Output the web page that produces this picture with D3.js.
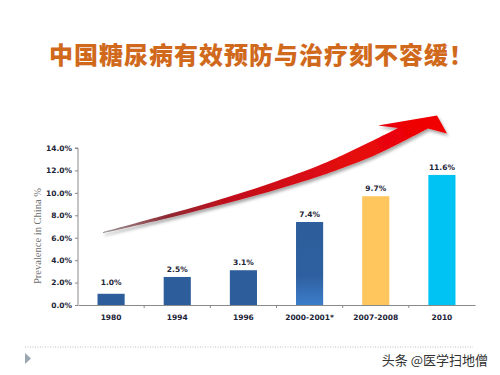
<!DOCTYPE html>
<html><head><meta charset="utf-8">
<script src="https://cdn.jsdelivr.net/npm/d3@7/dist/d3.min.js"></script>
<style>
html,body{margin:0;padding:0;background:#fff;}
svg{display:block;}
</style></head>
<body>
<svg id="c" width="500" height="375"></svg>
<script>
const title = "中国糖尿病有效预防与治疗刻不容缓！";
const categories = ["1980", "1994", "1996", "2000-2001*", "2007-2008", "2010"];
const values = [1.0, 2.5, 3.1, 7.4, 9.7, 11.6];
const yTicks = [0, 2, 4, 6, 8, 10, 12, 14];
const yTitle = "Prevalence in China %";
const watermark = "头条 @医学扫地僧";

const svg = d3.select("#c");
const defs = svg.append("defs");

// gradients
const g1 = defs.append("linearGradient").attr("id","bar4").attr("x1",0).attr("y1",0).attr("x2",0).attr("y2",1);
g1.append("stop").attr("offset","0%").attr("stop-color","#2D5D9B");
g1.append("stop").attr("offset","65%").attr("stop-color","#2E609F");
g1.append("stop").attr("offset","100%").attr("stop-color","#3C7DCB");

const ag = defs.append("linearGradient").attr("id","arrowG").attr("gradientUnits","userSpaceOnUse")
  .attr("x1",103).attr("y1",232).attr("x2",445).attr("y2",120);
ag.append("stop").attr("offset","0%").attr("stop-color","#9a9a9a");
ag.append("stop").attr("offset","18%").attr("stop-color","#8e2a35");
ag.append("stop").attr("offset","35%").attr("stop-color","#c0101c");
ag.append("stop").attr("offset","70%").attr("stop-color","#e40a10");
ag.append("stop").attr("offset","100%").attr("stop-color","#f20000");

const sh = defs.append("filter").attr("id","shadow").attr("x","-10%").attr("y","-10%").attr("width","130%").attr("height","140%");
sh.append("feDropShadow").attr("dx",1.5).attr("dy",2.5).attr("stdDeviation",1.5).attr("flood-color","#000").attr("flood-opacity",0.35);

// title
svg.append("text").attr("x",49).attr("y",64).attr("text-anchor","start")
  .attr("font-family","'Noto Sans CJK SC', sans-serif").attr("font-weight",900)
  .attr("font-size",24).attr("fill","#D0691C").attr("letter-spacing","1")
  .text(title);

// scales
const margin = {left:78, right:475, top:148, bottom:305};
const x = d3.scaleBand().domain(categories).range([margin.left, margin.right]).paddingInner(0.59).paddingOuter(0.295);
const xb = d3.scaleBand().domain(categories).range([margin.left, margin.right]);
const y = d3.scaleLinear().domain([0,14]).range([margin.bottom, margin.top]);
const color = d3.scaleOrdinal().domain(categories).range(["#2D5D9B","#2D5D9B","#2D5D9B","url(#bar4)","#FFC65E","#00C3F3"]);

// arrow
const upper = [[103,232],[160,216.5],[210,202.5],[270,183.5],[320,165],[345,154],[372,141],[398,128]];
const lower = [[428,128.5],[400,143],[372,156.5],[345,167],[320,176],[270,191.5],[210,207.5],[160,220],[103,233.2]];
const head = [[398,128],[378,125.5],[437,115.5],[447,133.5],[428,128.5]];
const lineGen = d3.line().curve(d3.curveCatmullRom);
const up = lineGen(upper);
const low = lineGen(lower).replace(/^M/,"L");
const hd = head.slice(1).map(p=>"L"+p[0]+","+p[1]).join("");
svg.append("path").attr("d", up + hd + low + "Z").attr("fill","url(#arrowG)").attr("filter","url(#shadow)");

// axes
const ax = svg.append("g").attr("font-family","'DejaVu Sans', Verdana, sans-serif");
const yAxis = d3.axisLeft(y).tickValues(yTicks).tickSize(3).tickFormat(d=>d3.format(".1f")(d)+"%");
const yg = ax.append("g").attr("transform",`translate(${margin.left},0)`).call(yAxis);
yg.select(".domain").attr("stroke","#8a8a8a").attr("d",`M-3,${margin.top}H0V${margin.bottom}`);
yg.selectAll(".tick line").attr("stroke","#8a8a8a");
yg.selectAll(".tick text").attr("font-size",7.5).attr("font-weight","bold").attr("fill","#1c2336").attr("x",-6)
  .attr("font-family","'DejaVu Sans', Verdana, sans-serif");

const xAxis = d3.axisBottom(xb).tickSize(0).tickFormat("");
const xg = ax.append("g").attr("transform",`translate(0,${margin.bottom})`).call(xAxis);
xg.select(".domain").attr("stroke","#8a8a8a");
xg.selectAll(".tick").remove();
xg.selectAll("line.sep").data(categories.slice(1)).enter().append("line")
  .attr("x1",d=>xb(d)).attr("x2",d=>xb(d)).attr("y1",0).attr("y2",3).attr("stroke","#8a8a8a");
xg.selectAll("text.cat").data(categories).enter().append("text")
  .attr("x",d=>xb(d)+xb.bandwidth()/2).attr("y",15).attr("text-anchor","middle")
  .attr("font-size",7.5).attr("font-weight","bold").attr("fill","#1c2336")
  .attr("font-family","'DejaVu Sans', Verdana, sans-serif").text(d=>d);

// bars
svg.append("g").selectAll("rect").data(categories).enter().append("rect")
  .attr("x",d=>x(d)).attr("width",x.bandwidth())
  .attr("y",(d,i)=>y(values[i])).attr("height",(d,i)=>y(0)-y(values[i]))
  .attr("fill",d=>color(d));

svg.append("g").selectAll("text").data(categories).enter().append("text")
  .attr("x",d=>x(d)+x.bandwidth()/2).attr("y",(d,i)=>y(values[i])-(i===0?9:5))
  .attr("text-anchor","middle").attr("font-size",7.5).attr("font-weight","bold").attr("fill","#1c2336")
  .attr("font-family","'DejaVu Sans', Verdana, sans-serif")
  .text((d,i)=>d3.format(".1f")(values[i])+"%");

// y title
svg.append("text").attr("transform","translate(41,236) rotate(-90)").attr("text-anchor","middle")
  .attr("font-family","'Liberation Serif', 'DejaVu Serif', serif").attr("font-size",10.5)
  .attr("fill","#707070").text(yTitle);

// footer
svg.append("line").attr("x1",25).attr("x2",473).attr("y1",347).attr("y2",347)
  .attr("stroke","#b8bcc0").attr("stroke-width",1).attr("stroke-dasharray","1,1.5");
svg.append("path").attr("d","M25,353L31,358.5L25,364Z").attr("fill","#9aa6b2");
svg.append("text").attr("x",488).attr("y",365).attr("text-anchor","end")
  .attr("font-family","'Noto Sans CJK SC', sans-serif").attr("font-size",13).attr("fill","#333")
  .text(watermark);
</script>
</body></html>
